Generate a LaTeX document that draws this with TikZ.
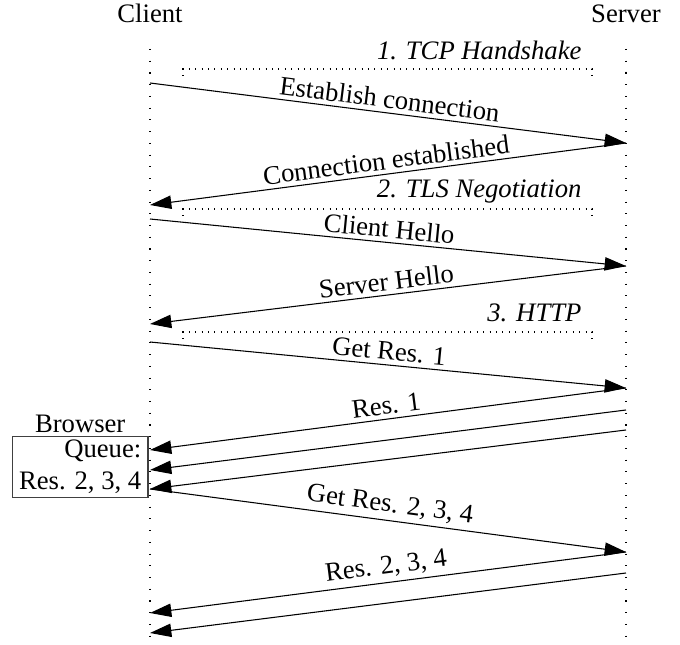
\documentclass[tikz,border=0pt]{standalone}
\usepackage{fontspec}
\setmainfont{Liberation Serif}
\usetikzlibrary{arrows.meta}
\begin{document}
\begin{tikzpicture}[x=0.375pt,y=-0.375pt,
  msg/.style={-{Triangle[length=8pt,width=5pt]}, line width=0.4pt},
  lbl/.style={midway, above, sloped, inner sep=1.5pt},
  life/.style={line width=0.4pt, dash pattern=on 0.4pt off 4pt},
  frm/.style={dotted, line width=0.4pt},
  phase/.style={font=\itshape, anchor=base east, inner sep=0pt},
  head/.style={anchor=base, inner sep=0pt}]
\useasboundingbox (0,0) rectangle (680,645);
% heads
\node[head] (client) at (150,23) {Client};
\node[head] (server) at (626,23) {Server};
% lifelines
\coordinate (ctop) at (150,49); \coordinate (cbot) at (150,640);
\coordinate (stop) at (626,49); \coordinate (sbot) at (626,640);
\draw[life] (ctop) -- (cbot);
\draw[life] (stop) -- (sbot);
% phase frames
\coordinate (f1a) at (183,76); \coordinate (f1b) at (183,69);
\coordinate (f1c) at (592,69); \coordinate (f1d) at (592,76);
\draw[frm] (f1a) -- (f1b) -- (f1c) -- (f1d);
\node[phase] (p1) at (582,60) {1. TCP Handshake};
\coordinate (f2a) at (183,216); \coordinate (f2b) at (183,209);
\coordinate (f2c) at (592,209); \coordinate (f2d) at (592,216);
\draw[frm] (f2a) -- (f2b) -- (f2c) -- (f2d);
\node[phase] (p2) at (582,198) {2. TLS Negotiation};
\coordinate (f3a) at (183,339); \coordinate (f3b) at (183,332);
\coordinate (f3c) at (592,332); \coordinate (f3d) at (592,339);
\draw[frm] (f3a) -- (f3b) -- (f3c) -- (f3d);
\node[phase] (p3) at (582,322) {3. HTTP};
% message end points
\coordinate (c1) at (150,83);  \coordinate (s1) at (626,143);
\coordinate (c2) at (150,205);
\coordinate (c3) at (150,219); \coordinate (s3) at (626,266);
\coordinate (c4) at (150,324);
\coordinate (c5) at (150,342); \coordinate (s5) at (626,388);
\coordinate (c6) at (150,450);
\coordinate (s6b) at (626,410); \coordinate (c6b) at (150,470);
\coordinate (s6c) at (626,430); \coordinate (c6c) at (150,489);
\coordinate (s7) at (626,552);
\coordinate (c8) at (150,613);
\coordinate (s8b) at (626,573); \coordinate (c8b) at (150,633);
% browser queue
\node[draw=black!75, align=right, inner ysep=1.5pt, inner xsep=2.5pt, anchor=east] (queue) at (148.5,467) {Queue:\\Res. 2, 3, 4};
\node[above, inner sep=1pt] (browser) at (queue.north) {Browser};
% messages
\draw[msg] (c1) -- node[lbl] {Establish connection} (s1);
\draw[msg] (s1) -- node[lbl] {Connection established} (c2);
\draw[msg] (c3) -- node[lbl] {Client Hello} (s3);
\draw[msg] (s3) -- node[lbl] {Server Hello} (c4);
\draw[msg] (c5) -- node[lbl] {Get Res. 1} (s5);
\draw[msg] (s5) -- node[lbl] {Res. 1} (c6);
\draw[msg] (s6b) -- (c6b);
\draw[msg] (s6c) -- (c6c);
\draw[msg] (c6c) -- node[lbl] {Get Res. 2, 3, 4} (s7);
\draw[msg] (s7) -- node[lbl] {Res. 2, 3, 4} (c8);
\draw[msg] (s8b) -- (c8b);
\end{tikzpicture}
\end{document}
